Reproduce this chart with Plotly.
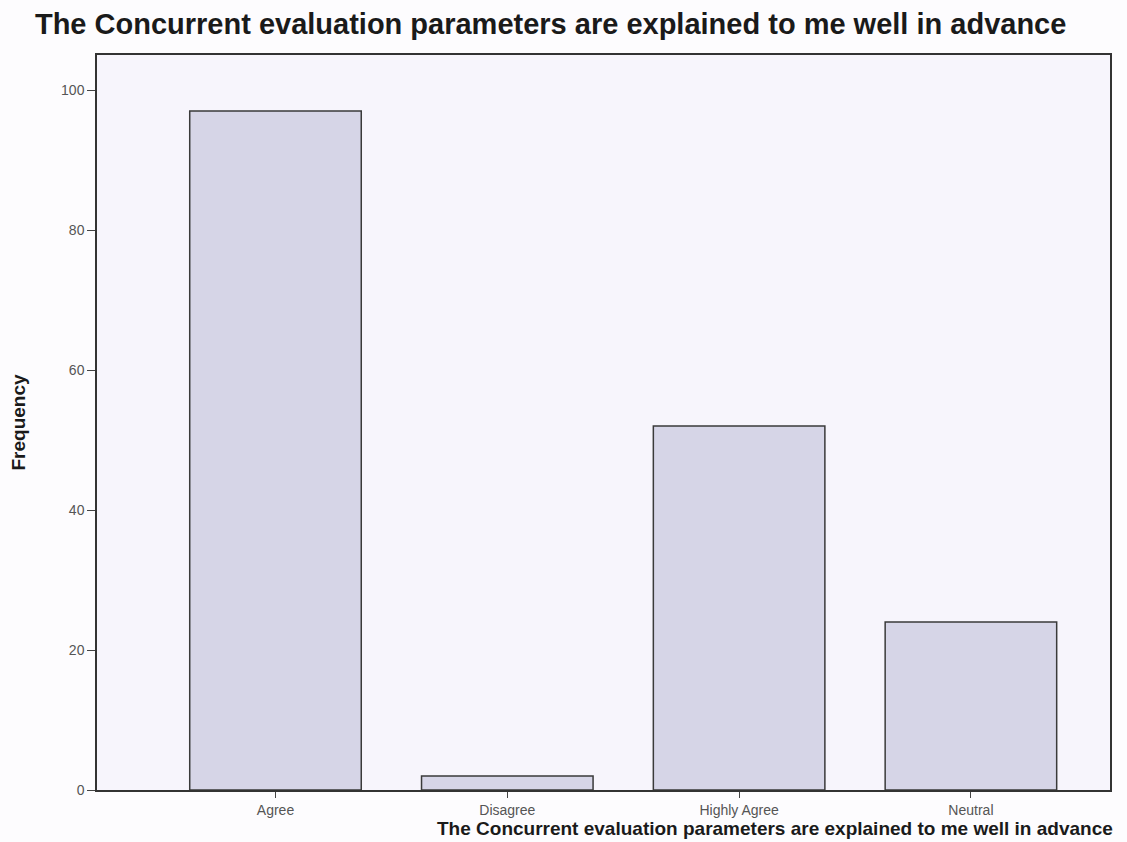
import plotly.graph_objects as go

categories = ["Agree", "Disagree", "Highly Agree", "Neutral"]
frequencies = [97, 2, 52, 24]
y_ticks = [0, 20, 40, 60, 80, 100]
title_text = "The Concurrent evaluation parameters are explained to me well in advance"

fig = go.Figure(
    go.Bar(
        x=list(range(len(categories))),
        y=frequencies,
        width=0.74,
        marker=dict(color="#d6d5e7", line=dict(color="#3a3a3a", width=1.5)),
        hoverinfo="skip",
    )
)

axis_font = dict(family="Liberation Sans, Arial, sans-serif", size=14, color="#555555")

fig.update_layout(
    width=1127,
    height=842,
    margin=dict(l=97, r=17, t=55, b=52),
    paper_bgcolor="#fdfcfe",
    plot_bgcolor="#f7f5fc",
    showlegend=False,
    title=dict(
        text="<b>" + title_text + "</b>",
        x=0.031, xanchor="left", xref="container",
        y=0.972, yanchor="middle", yref="container",
        font=dict(family="Liberation Sans, Arial, sans-serif", size=29, color="#1a1a1a"),
    ),
    xaxis=dict(
        tickmode="array",
        tickvals=list(range(len(categories))),
        ticktext=categories,
        range=[-0.77, 3.6],
        showline=True, linecolor="#333333", linewidth=1.5, mirror=True,
        ticks="outside", ticklen=6, tickcolor="#444444",
        showgrid=False, zeroline=False,
        tickfont=axis_font,
    ),
    yaxis=dict(
        tickmode="array",
        tickvals=y_ticks,
        range=[0, 105],
        showline=True, linecolor="#333333", linewidth=1.5, mirror=True,
        ticks="outside", ticklen=8, tickcolor="#444444",
        showgrid=False, zeroline=False,
        tickfont=axis_font,
        automargin=False,
        title=dict(text="<b>Frequency</b>", standoff=30,
                   font=dict(family="Liberation Sans, Arial, sans-serif", size=19, color="#1a1a1a")),
    ),
    annotations=[
        dict(
            text="<b>" + title_text + "</b>",
            xref="paper", yref="paper",
            x=1.005, y=-0.069,
            xanchor="right", yanchor="bottom",
            showarrow=False,
            font=dict(family="Liberation Sans, Arial, sans-serif", size=19, color="#1a1a1a"),
        )
    ],
)

fig.write_html(
    "out.html",
    config={"displayModeBar": False},
    post_script="document.body.style.margin='0';",
)
